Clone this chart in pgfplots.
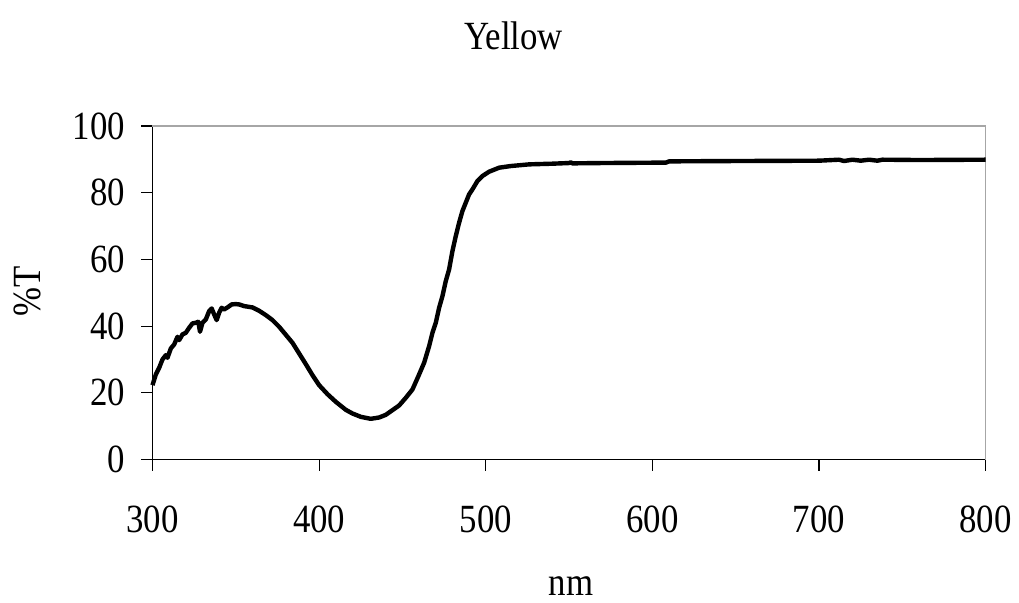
\documentclass[border=0pt]{standalone}
\usepackage{fontspec}
\setmainfont{Liberation Serif}[FakeStretch=0.87]
\usepackage{pgfplots}
\pgfplotsset{compat=1.18}
\newcommand\chartfont{\fontsize{20pt}{24pt}\selectfont}
\begin{document}
\begin{tikzpicture}
\useasboundingbox (-76.25pt,-71.25pt) rectangle (433.25pt,229.75pt);
\begin{axis}[
  at={(0pt,0pt)}, anchor=origin,
  scale only axis, width=416.6pt, height=166.75pt,
  xmin=300, xmax=800, ymin=0, ymax=100,
  xtick={300,400,...,800}, ytick={0,20,...,100},
  axis x line*=bottom, axis y line*=left,
  axis line style={black, line width=0.7pt},
  tick align=outside, major tick length=5.5pt,
  tick style={black, line width=0.6pt},
  /pgf/number format/assume math mode=true,
  font=\chartfont,
  ticklabel style={font=\chartfont},
  xticklabel style={anchor=base, yshift=-31pt},
  yticklabel style={anchor=east, inner sep=0pt, xshift=-8pt},
  title={Yellow},
  title style={at={(axis description cs:0.4333,1.192)}, anchor=base, font=\chartfont},
  xlabel={nm},
  xlabel style={at={(axis description cs:0.5023,-0.409)}, anchor=base, font=\chartfont},
  ylabel={\%T},
  ylabel style={at={(axis description cs:-0.1506,0.505)}, anchor=center, font=\chartfont},
  clip=false,
]
\draw[gray!70, line width=0.8pt] (rel axis cs:0,1) -- (rel axis cs:1,1) -- (rel axis cs:1,0);
\addplot[black, line width=2.2pt, line join=round] coordinates {
(300,22.3) (302,25.5) (304,27.5) (306,30.0) (308,31.3) (309,30.5) (311,33.3) (313,34.5)
(315,36.8) (316,35.8) (318,37.5) (320,38.0) (322,39.5) (324,40.8) (326,41.0) (327.5,41.3)
(328.5,38.3) (330,41.0) (332,42.0) (334,44.5) (335.5,45.3) (337,43.5) (338.5,41.8) (340,44.0)
(341.5,45.5) (343,45.0) (345,45.6) (347.5,46.5) (350,46.6) (352,46.5) (355,46.0) (360,45.6)
(364,44.6) (368,43.3) (372,41.8) (376,39.8) (380,37.4) (384,35.0) (388,31.8) (392,28.6)
(396,25.3) (400,22.3) (405,19.6) (410,17.3) (416,14.9) (420,13.8) (425,12.8) (431,12.2)
(436,12.6) (440,13.4) (444,14.8) (448,16.2) (452,18.5) (456,21.0) (460,25.5) (463,29.0)
(466,34.0) (468,38.0) (470,41.0) (472,45.5) (474,49.0) (476,53.5) (478,57.0) (480,62.5)
(482,67.0) (484,71.0) (486,74.5) (488,77.0) (490,79.5) (492,81.0) (495,83.5) (498,85.0)
(502,86.3) (508,87.5) (515,88.0) (526,88.5) (540,88.7) (550,88.9) (551,89.1) (552,88.8)
(570,88.9) (600,89.0) (608,89.0) (610,89.4) (650,89.5) (700,89.6) (712,89.9) (715,89.5)
(720,89.9) (725,89.6) (730,89.9) (735,89.6) (738,89.9) (760,89.8) (800,89.9)
};
\end{axis}
\end{tikzpicture}
\end{document}
